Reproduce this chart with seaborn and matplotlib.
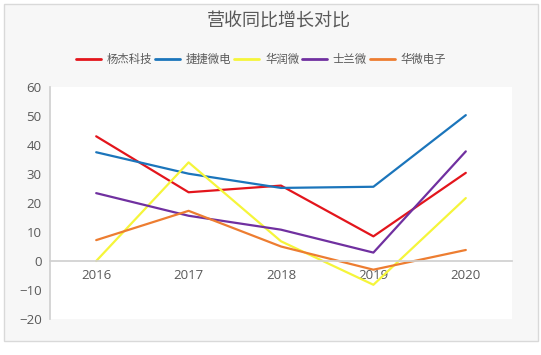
import matplotlib
matplotlib.use("Agg")
import matplotlib.pyplot as plt
import seaborn as sns
import pandas as pd
from matplotlib.patches import Rectangle

years = ["2016", "2017", "2018", "2019", "2020"]
yangjie = [43.0, 23.7, 26.0, 8.5, 30.4]
jiejie = [37.5, 30.1, 25.2, 25.6, 50.3]
huarun = [0.0, 34.0, 6.8, -8.2, 21.7]
shilan = [23.4, 15.6, 10.8, 2.9, 37.8]
huawei = [7.2, 17.3, 5.0, -3.0, 3.8]
series_names = ["杨杰科技", "捷捷微电", "华润微", "士兰微", "华微电子"]
colors = ["#e3151c", "#1b75bb", "#f5f53a", "#7030a0", "#ed7d31"]
title = "营收同比增长对比"

sns.set_theme(style="white")
plt.rcParams['font.family'] = ['Open Sans', 'Noto Sans CJK SC', 'DejaVu Sans']

rows = []
for name, vals in zip(series_names, [yangjie, jiejie, huarun, shilan, huawei]):
    for yr, v in zip(years, vals):
        rows.append({"年份": yr, "值": v, "公司": name})
df = pd.DataFrame(rows)

fig = plt.figure(figsize=(5.41, 3.55), dpi=100)
fig.patch.set_facecolor("white")
bg = Rectangle((4/541, 1-341/355), 534/541, 337/355, transform=fig.transFigure,
               facecolor="#f7f7f7", edgecolor="#d9d9d9", linewidth=1.0, zorder=-10)
fig.patches.append(bg)

ax = fig.add_axes([50/541, 1-319/355, 462/541, 232/355])
ax.set_zorder(1)
ax.set_facecolor("white")
sns.lineplot(data=df, x="年份", y="值", hue="公司", palette=colors, hue_order=series_names,
             linewidth=1.6, ax=ax, sort=False, legend=True)

ax.set_ylim(-20, 60)
ax.set_xlim(-0.5, 4.5)
ax.set_yticks(range(-20, 61, 10))
ax.set_xlabel("")
ax.set_ylabel("")
for s in ["top", "right"]:
    ax.spines[s].set_visible(False)
ax.spines["left"].set_color("#d0d0d0")
ax.spines["bottom"].set_color("#d0d0d0")
ax.spines["bottom"].set_position(("data", 0))
ax.tick_params(axis="both", length=0, colors="#595959", labelsize=9.5)
ax.tick_params(axis="y", pad=6)
ax.tick_params(axis="x", pad=6)

handles, labels = ax.get_legend_handles_labels()
ax.get_legend().remove()
leg = fig.legend(handles, labels, loc="center", bbox_to_anchor=(261/541, 1-60/355), ncol=5,
                 frameon=False, fontsize=8.2, handlelength=2.2, handletextpad=0.5,
                 columnspacing=0.25, labelcolor="#595959")
for line in leg.get_lines():
    line.set_linewidth(2)

fig.text(279/541, 1-22/355, title, ha="center", va="center", fontsize=13, color="#595959")

fig.savefig("out.png", dpi=100)
